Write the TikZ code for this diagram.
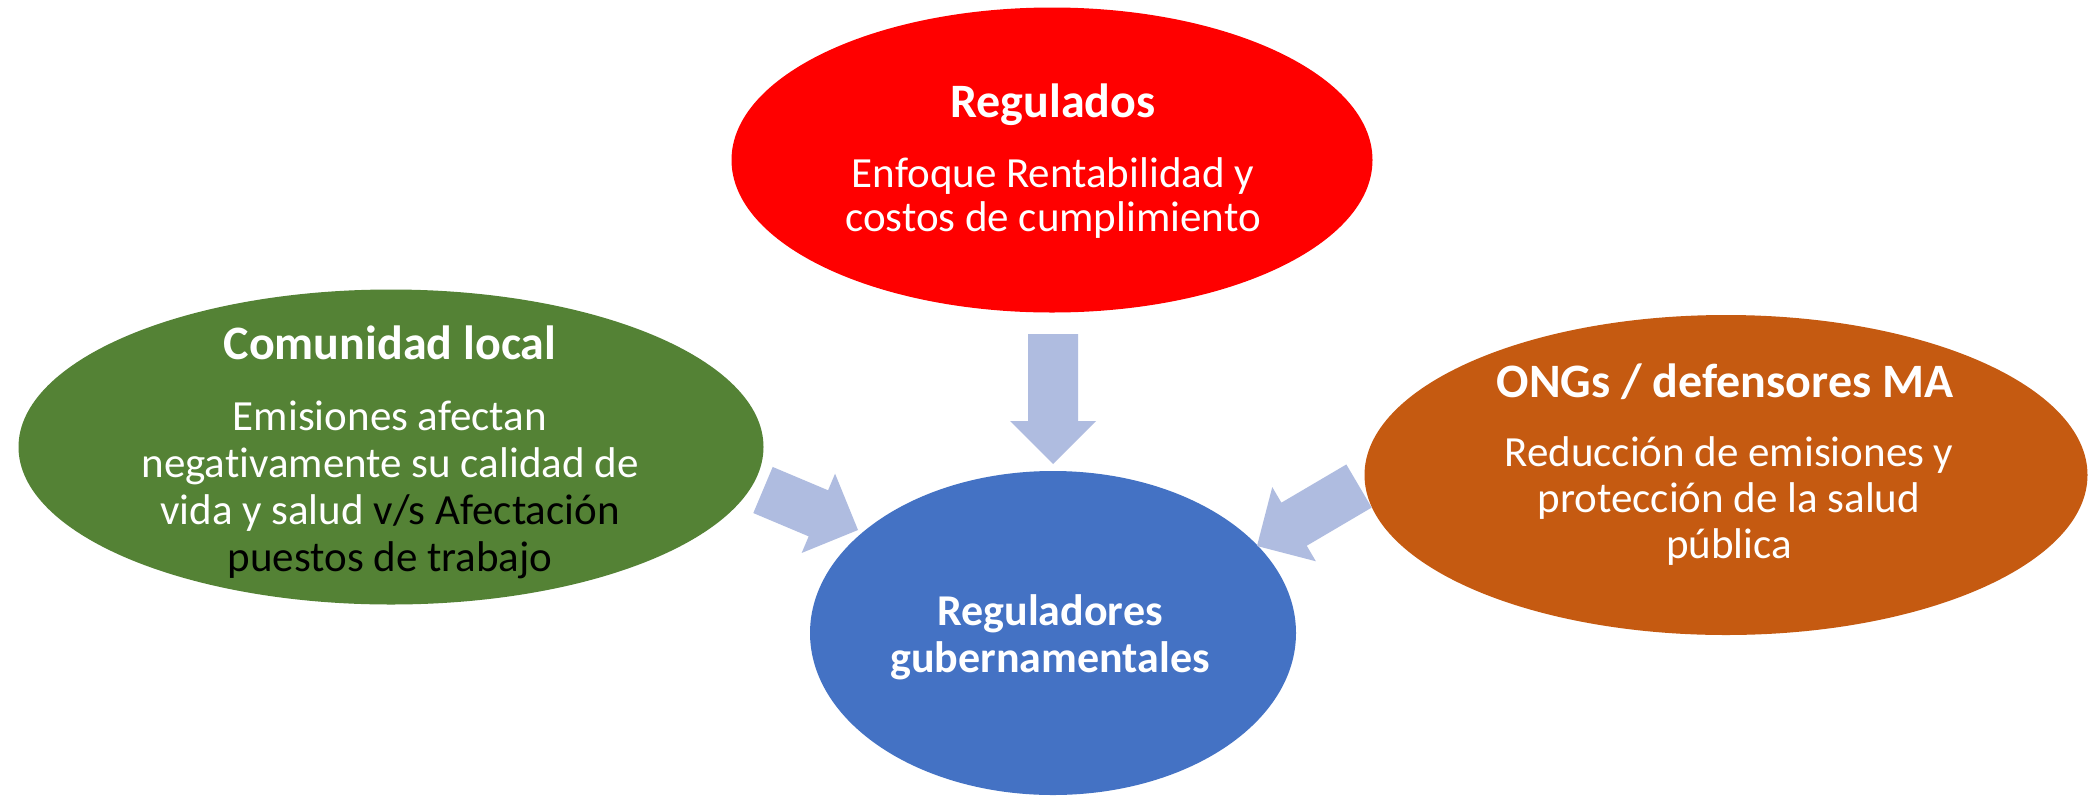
\documentclass[tikz,border=0pt]{standalone}
\usepackage{fontspec}
\setmainfont{Carlito}[RawFeature=-liga]
\usetikzlibrary{shapes.geometric,calc}
\definecolor{regred}{RGB}{255,0,0}
\definecolor{comgreen}{RGB}{84,130,53}
\definecolor{ongorange}{RGB}{197,90,17}
\definecolor{govblue}{RGB}{68,114,196}
\definecolor{arrowblue}{RGB}{175,188,224}
% block arrow from tail #1 to tip #2
\newcommand{\blockarrow}[2]{%
  \fill[arrowblue] ($(#1)!25pt!90:(#2)$)
    -- ($($(#2)!43pt!(#1)$)!25pt!90:(#2)$)
    -- ($($(#2)!43pt!(#1)$)!43pt!90:(#2)$)
    -- (#2)
    -- ($($(#2)!43pt!(#1)$)!43pt!-90:(#2)$)
    -- ($($(#2)!43pt!(#1)$)!25pt!-90:(#2)$)
    -- ($(#1)!25pt!-90:(#2)$) -- cycle;}
\begin{document}
\begin{tikzpicture}[x=1pt,y=-1pt,
  oval/.style={ellipse,inner sep=0pt,draw=none},
  headtext/.style={font=\fontsize{48}{52}\selectfont\bfseries,text=white,inner sep=0pt},
  bodytext/.style={font=\fontsize{43}{47}\selectfont,text=white,align=center,inner sep=0pt}]
\fill[white] (0,0) rectangle (2091,796);
\node[oval,fill=regred,minimum width=641pt,minimum height=305pt] (reg) at (1052,160) {};
\node[oval,fill=comgreen,minimum width=745pt,minimum height=315pt] (com) at (391,447) {};
\node[oval,fill=ongorange,minimum width=723pt,minimum height=320pt] (ong) at (1726,475) {};
\node[oval,fill=govblue,minimum width=486pt,minimum height=324pt] (gov) at (1053,633) {};
\node[headtext] (regT) at (1053,105) {Regulados};
\node[bodytext,font=\fontsize{43}{44}\selectfont] (regB) at (1053,198) {Enfoque Rentabilidad y\\costos de cumplimiento};
\node[headtext] (comT) at (390,343) {Comunidad local};
\node[bodytext] (comB) at (390,490) {Emisiones afectan\\negativamente su calidad de\\vida y salud \textcolor{black}{v/s Afectación}\\\textcolor{black}{puestos de trabajo}};
\node[headtext] (ongT) at (1725,382) {ONGs / defensores MA};
\node[bodytext,font=\fontsize{43}{46}\selectfont] (ongB) at (1729,501) {Reducción de emisiones y\\protección de la salud\\pública};
\node[bodytext,font=\fontsize{44}{47}\selectfont\bfseries] (govT) at (1050,637) {Reguladores\\gubernamentales};
\coordinate (regTail) at (1053,334);
\coordinate (regTip) at (1053,464);
\coordinate (comTail) at (763,490);
\coordinate (comTip) at (858,530);
\coordinate (ongTail) at (1359,486);
\coordinate (ongTip) at (1257,546);
\blockarrow{regTail}{regTip}
\blockarrow{comTail}{comTip}
\blockarrow{ongTail}{ongTip}
\end{tikzpicture}
\end{document}
